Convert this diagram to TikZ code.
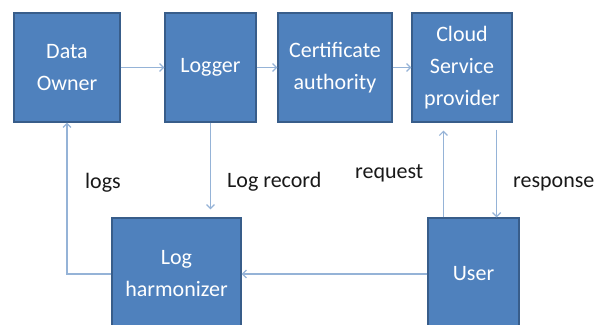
\documentclass[tikz,border=0pt]{standalone}
\usepackage{fontspec}
\setmainfont{Carlito}
\usetikzlibrary{arrows.meta}

\definecolor{boxfill}{RGB}{79,129,189}
\definecolor{boxline}{RGB}{56,93,138}
\definecolor{linkblue}{RGB}{149,179,215}

\begin{document}
\begin{tikzpicture}[x=1pt,y=-1pt,
    block/.style={draw=boxline,line width=1.2pt,fill=boxfill,text=white,
        align=center,inner sep=0pt,minimum height=109pt,
        font=\fontsize{22}{32}\selectfont},
    link/.style={draw=linkblue,line width=1.2pt,
        -{Straight Barb[length=4pt,width=8pt]}},
    lbl/.style={anchor=base west,inner sep=0pt,text=black!90,
        font=\fontsize{22}{26}\selectfont}]
\useasboundingbox (0,0) rectangle (604,324);
\clip (0,0) rectangle (604,324);

% Top row
\node[block,minimum width=106pt] (owner) at (67,67.5) {Data\\Owner};
\node[block,minimum width=91pt] (logger) at (210.5,67.5) {Logger};
\node[block,minimum width=114pt] (ca) at (335,67.5) {Certificate\\authority};
\node[block,minimum width=100pt] (csp) at (462,67.5) {Cloud\\Service\\provider};

% Bottom row
\node[block,minimum width=129pt,minimum height=112pt] (harm) at (176.5,274) {Log\\harmonizer};
\node[block,minimum width=91pt,minimum height=112pt] (user) at (473.5,274) {User};

% Arrows along the top
\draw[link] (owner) -- (logger);
\draw[link] (logger) -- (ca);
\draw[link] (ca) -- (csp);

% Log record down to the harmonizer
\draw[link,shorten >=8pt] (logger.south) -- (logger.south |- harm.north);

% Harmonizer back to the owner
\draw[link] (harm.west) -- (owner.south |- harm.west) -- (owner.south);

% User to harmonizer
\draw[link] (user.west) -- (harm.east);

% Request and response
\coordinate (req) at ([xshift=16pt]user.north west);
\coordinate (resp) at ([xshift=-16pt]csp.south east);
\draw[link,shorten >=8pt] (req) -- (req |- csp.south);
\draw[link,shorten <=7pt] (resp) -- (resp |- user.north);

% Labels
\node[lbl] (logs) at (85,188) {logs};
\node[lbl] (logrec) at (227,187) {Log record};
\node[lbl] (request) at (355,178) {request};
\node[lbl] (response) at (513,187) {response};

\end{tikzpicture}
\end{document}
